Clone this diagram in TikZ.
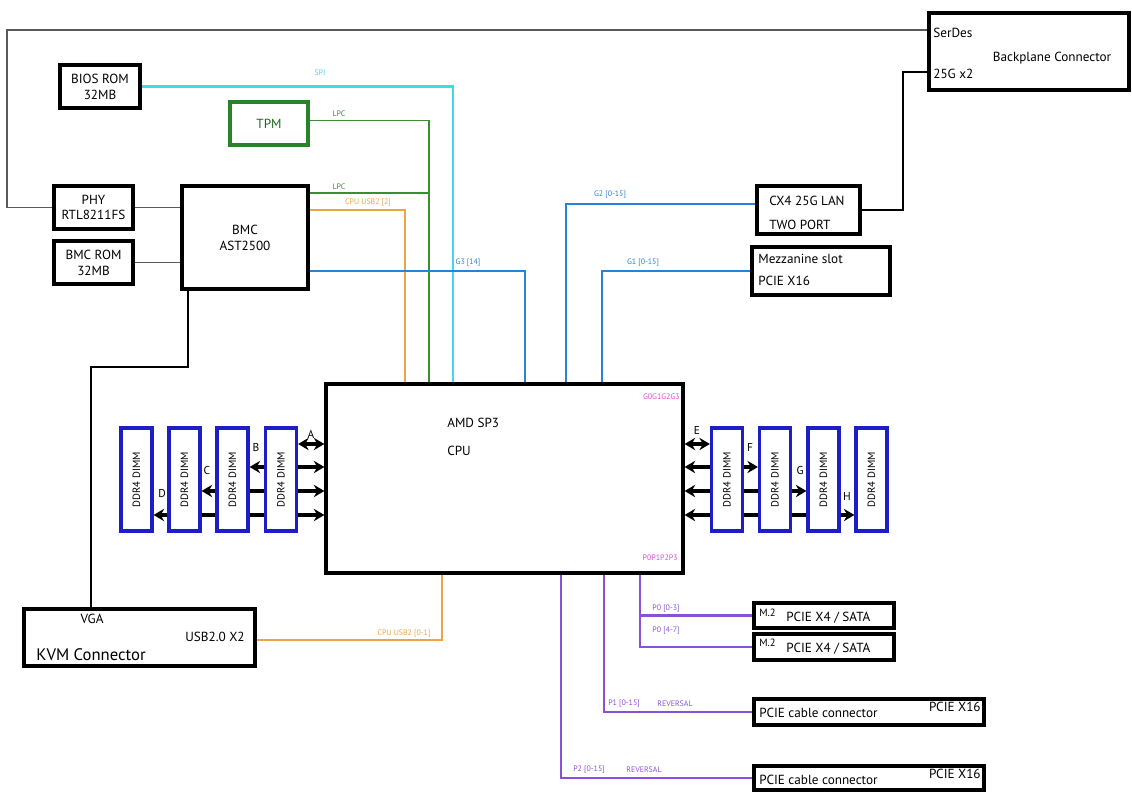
\documentclass[tikz,border=0pt]{standalone}
\usepackage{fontspec}
\usepackage{graphicx}
\setmainfont{PT Sans}
\usetikzlibrary{arrows.meta}
\pgfdeclarelayer{background}
\pgfsetlayers{background,main}
\definecolor{dimmblue}{RGB}{30,30,200}
\definecolor{spicol}{RGB}{70,215,235}
\definecolor{lpccol}{RGB}{60,140,50}
\definecolor{tpmcol}{RGB}{40,130,40}
\definecolor{usbcol}{RGB}{235,165,70}
\definecolor{gcol}{RGB}{40,130,215}
\definecolor{pcol}{RGB}{140,80,215}
\definecolor{mcol}{RGB}{215,80,215}
\definecolor{glinecol}{RGB}{90,90,90}
\begin{document}
\begin{tikzpicture}[x=0.02cm,y=-0.02cm,
  blk/.style={draw=black,line width=1.9pt,fill=white,inner sep=0pt,align=center,font=\fontsize{7.5}{9}\selectfont},
  dimm/.style={draw=dimmblue,line width=1.8pt,fill=white,minimum width=0.62cm,minimum height=2.06cm,inner sep=0pt,font=\fontsize{6}{7}\selectfont},
  txt/.style={inner sep=0pt,font=\fontsize{7.5}{9}\selectfont},
  lbl/.style={inner sep=0pt,font=\fontsize{4.5}{5}\selectfont},
  gline/.style={draw=glinecol,line width=1pt},
  kline/.style={draw=black,line width=1.2pt},
  spil/.style={draw=spicol,line width=1.2pt},
  lpcl/.style={draw=lpccol,line width=1pt},
  usbl/.style={draw=usbcol,line width=1.1pt},
  bl/.style={draw=gcol,line width=1.3pt},
  pl/.style={draw=pcol,line width=1.2pt},
  darr/.style={line width=1.9pt,{Stealth[length=6pt,width=7pt]}-{Stealth[length=6pt,width=7pt]}}
]
\useasboundingbox (0,0) rectangle (1132,793);

% boxes
\node[blk,minimum width=4cm,minimum height=1.54cm] (bp) at (1029,51.5) {};
\node[txt,anchor=west] (bpa) at (933,33) {SerDes};
\node[txt,anchor=west] (bpb) at (933,74) {25G x2};
\node[txt] (bpc) at (1052,58) {Backplane Connector};

\node[blk,minimum width=1.6cm,minimum height=0.86cm] (bios) at (100,86.5) {BIOS ROM\\32MB};
\node[blk,draw=tpmcol,text=tpmcol!80!black,minimum width=1.56cm,minimum height=0.86cm] (tpm) at (269,123.5) {TPM};
\node[blk,minimum width=1.58cm,minimum height=0.86cm] (phy) at (93.5,207.5) {PHY\\RTL8211FS};
\node[blk,minimum width=1.58cm,minimum height=0.86cm] (rom2) at (93.5,262.5) {BMC ROM\\32MB};
\node[blk,minimum width=2.52cm,minimum height=2.06cm] (bmc) at (245,237.5) {BMC\\AST2500};

\node[blk,minimum width=7.14cm,minimum height=3.78cm] (cpu) at (504.5,478.5) {};
\node[txt,anchor=west] (cpua) at (447,423) {AMD SP3};
\node[txt,anchor=west] (cpub) at (447,451) {CPU};
\node[lbl,text=mcol,anchor=east] (cpuc) at (680,397) {G0G1G2G3};
\node[lbl,text=mcol,anchor=east] (cpud) at (678,558) {P0P1P2P3};

\node[blk,minimum width=2.06cm,minimum height=0.96cm] (cx4) at (808.5,210) {};
\node[txt,anchor=west] (cx4a) at (769,201) {CX4 25G LAN};
\node[txt,anchor=west] (cx4b) at (769,225) {TWO PORT};

\node[blk,minimum width=2.76cm,minimum height=0.96cm] (mezz) at (821,271) {};
\node[txt,anchor=west] (mza) at (758,259) {Mezzanine slot};
\node[txt,anchor=west] (mzb) at (758,281) {PCIE X16};

\node[blk,minimum width=4.62cm,minimum height=1.14cm] (kvm) at (139.5,637.5) {};
\node[txt] (kvma) at (92,619) {VGA};
\node[txt,anchor=east] (kvmb) at (245,637) {USB2.0 X2};
\node[txt,anchor=west,font=\fontsize{9.5}{11}\selectfont] (kvmc) at (36,655) {KVM Connector};

\node[blk,minimum width=2.8cm,minimum height=0.5cm] (m2a) at (824,615.5) {};
\node[txt,anchor=west,font=\fontsize{6}{7}\selectfont] (m2aa) at (759,613) {M.2};
\node[txt,anchor=west] (m2ab) at (786,618) {PCIE X4 / SATA};
\node[blk,minimum width=2.8cm,minimum height=0.52cm] (m2b) at (824,647) {};
\node[txt,anchor=west,font=\fontsize{6}{7}\selectfont] (m2ba) at (759,643) {M.2};
\node[txt,anchor=west] (m2bb) at (786,649) {PCIE X4 / SATA};

\node[blk,minimum width=4.6cm,minimum height=0.52cm] (pc1) at (869,712) {};
\node[txt,anchor=west] (pc1a) at (759,713) {PCIE cable connector};
\node[txt,anchor=east] (pc1b) at (981,707) {PCIE X16};
\node[blk,minimum width=4.6cm,minimum height=0.48cm] (pc2) at (869,778) {};
\node[txt,anchor=west] (pc2a) at (759,780) {PCIE cable connector};
\node[txt,anchor=east] (pc2b) at (981,774) {PCIE X16};

% DIMMs
\node[dimm] (d1) at (136.5,479.5) {\rotatebox{90}{DDR4 DIMM}};
\node[dimm] (d2) at (184.5,479.5) {\rotatebox{90}{DDR4 DIMM}};
\node[dimm] (d3) at (232.5,479.5) {\rotatebox{90}{DDR4 DIMM}};
\node[dimm] (d4) at (281,479.5) {\rotatebox{90}{DDR4 DIMM}};
\node[dimm] (d5) at (727,479.5) {\rotatebox{90}{DDR4 DIMM}};
\node[dimm] (d6) at (775,479.5) {\rotatebox{90}{DDR4 DIMM}};
\node[dimm] (d7) at (823.5,479.5) {\rotatebox{90}{DDR4 DIMM}};
\node[dimm] (d8) at (871.5,479.5) {\rotatebox{90}{DDR4 DIMM}};

% DIMM channel letters
\node[txt,font=\fontsize{6.5}{7}\selectfont] (la) at (311,434) {A};
\node[txt,font=\fontsize{6.5}{7}\selectfont] (lb) at (256,448) {B};
\node[txt,font=\fontsize{6.5}{7}\selectfont] (lc) at (207,471) {C};
\node[txt,font=\fontsize{6.5}{7}\selectfont] (ld) at (162,494) {D};
\node[txt,font=\fontsize{6.5}{7}\selectfont] (le) at (697,431) {E};
\node[txt,font=\fontsize{6.5}{7}\selectfont] (lf) at (750,448) {F};
\node[txt,font=\fontsize{6.5}{7}\selectfont] (lg) at (800,471) {G};
\node[txt,font=\fontsize{6.5}{7}\selectfont] (lh) at (847,497) {H};

% connector labels
\node[lbl,text=spicol] (tspi) at (320,73) {SPI};
\node[lbl,text=lpccol] (tlpc1) at (339,114) {LPC};
\node[lbl,text=lpccol] (tlpc2) at (339,187) {LPC};
\node[lbl,text=usbcol] (tusb1) at (368,203) {CPU USB2 [2]};
\node[lbl,text=gcol] (tg3) at (468,263) {G3 [14]};
\node[lbl,text=gcol] (tg2) at (610,195) {G2 [0-15]};
\node[lbl,text=gcol] (tg1) at (643,263) {G1 [0-15]};
\node[lbl,text=usbcol] (tusb2) at (404,634) {CPU USB2 [0-1]};
\node[lbl,text=pcol] (tp0a) at (666,609) {P0 [0-3]};
\node[lbl,text=pcol] (tp0b) at (666,631) {P0 [4-7]};
\node[lbl,text=pcol] (tp1a) at (624,704) {P1 [0-15]};
\node[lbl,text=pcol] (tp1b) at (675,704) {REVERSAL};
\node[lbl,text=pcol] (tp2a) at (589,770) {P2 [0-15]};
\node[lbl,text=pcol] (tp2b) at (644,770) {REVERSAL};

% helper coordinates
\coordinate (xOr) at (405,0);
\coordinate (xLpc) at (429,0);
\coordinate (xSpi) at (453,0);
\coordinate (xG3) at (525,0);
\coordinate (xG2) at (566,0);
\coordinate (xG1) at (602,0);
\coordinate (xOr2) at (442,0);
\coordinate (xP2) at (561,0);
\coordinate (xP1) at (604,0);
\coordinate (xP0) at (640,0);
\coordinate (yLpc) at (0,193);
\coordinate (yTpm) at (0,120.5);
\coordinate (yUsb) at (0,210);
\coordinate (yG3) at (0,271);
\coordinate (yG2) at (0,204);
\coordinate (yKvm) at (0,640);
\coordinate (yM2a) at (0,615.5);
\coordinate (gL) at (7,30);
\coordinate (gR) at (903,72);
\coordinate (kA) at (188,367);
\coordinate (kB) at (91,367);
\coordinate (r1) at (0,444);
\coordinate (r2) at (0,467);
\coordinate (r3) at (0,491);
\coordinate (r4) at (0,515);

\begin{pgfonlayer}{background}
\fill[white] (0,0) rectangle (1132,793);
\draw[gline] (phy.west) -| (gL) -- (gL -| bp.west);
\draw[kline] (cx4.east) -| (gR) -- (gR -| bp.west);
\draw[gline] (phy.east) -- (phy.east -| bmc.west);
\draw[gline] (rom2.east) -- (rom2.east -| bmc.west);
\draw[kline] (bmc.south -| kA) |- (kB) -- (kB |- kvm.north);

\draw[spil] (bios.east) -| (cpu.north -| xSpi);
\draw[lpcl] (tpm.east |- yTpm) -| (cpu.north -| xLpc);
\draw[lpcl] (bmc.east |- yLpc) -- (xLpc |- yLpc);
\draw[usbl] (bmc.east |- yUsb) -| (cpu.north -| xOr);
\draw[bl] (bmc.east |- yG3) -| (cpu.north -| xG3);
\draw[bl] (cx4.west |- yG2) -| (cpu.north -| xG2);
\draw[bl] (mezz.west) -| (cpu.north -| xG1);

\draw[usbl] (kvm.east |- yKvm) -| (cpu.south -| xOr2);
\draw[pl] (cpu.south -| xP0) |- (m2b.west);
\draw[pl] (m2a.west |- yM2a) -- (xP0 |- yM2a);
\draw[pl] (cpu.south -| xP1) |- (pc1.west);
\draw[pl] (cpu.south -| xP2) |- (pc2.west);

\draw[darr] (d4.east |- r1) -- (cpu.west |- r1);
\draw[darr] (d3.east |- r2) -- (cpu.west |- r2);
\draw[darr] (d2.east |- r3) -- (cpu.west |- r3);
\draw[darr] (d1.east |- r4) -- (cpu.west |- r4);
\draw[darr] (cpu.east |- r1) -- (d5.west |- r1);
\draw[darr] (cpu.east |- r2) -- (d6.west |- r2);
\draw[darr] (cpu.east |- r3) -- (d7.west |- r3);
\draw[darr] (cpu.east |- r4) -- (d8.west |- r4);
\end{pgfonlayer}
\end{tikzpicture}
\end{document}
